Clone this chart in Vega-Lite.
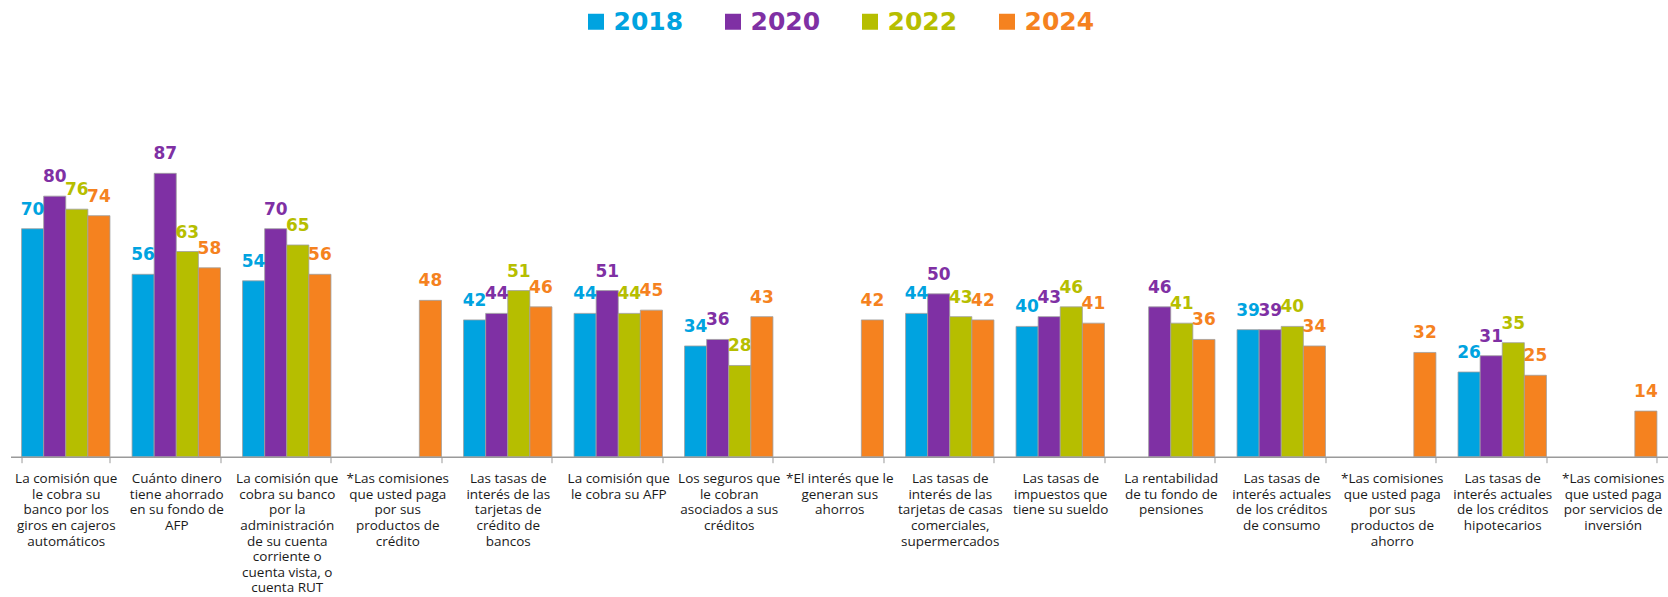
{
  "$schema": "https://vega.github.io/schema/vega-lite/v6.json",
  "width": 1657.5,
  "height": 325.7,
  "autosize": {"type": "none"},
  "padding": {"left": 10.5, "top": 131, "right": 0, "bottom": 140},
  "background": "white",
  "config": {"view": {"stroke": null}},
  "data": {
    "values": [
      {"q": "La comisión que|le cobra su|banco por los|giros en cajeros|automáticos", "year": "2018", "v": 70},
      {"q": "La comisión que|le cobra su|banco por los|giros en cajeros|automáticos", "year": "2020", "v": 80},
      {"q": "La comisión que|le cobra su|banco por los|giros en cajeros|automáticos", "year": "2022", "v": 76},
      {"q": "La comisión que|le cobra su|banco por los|giros en cajeros|automáticos", "year": "2024", "v": 74},
      {"q": "Cuánto dinero|tiene ahorrado|en su fondo de|AFP", "year": "2018", "v": 56},
      {"q": "Cuánto dinero|tiene ahorrado|en su fondo de|AFP", "year": "2020", "v": 87},
      {"q": "Cuánto dinero|tiene ahorrado|en su fondo de|AFP", "year": "2022", "v": 63},
      {"q": "Cuánto dinero|tiene ahorrado|en su fondo de|AFP", "year": "2024", "v": 58},
      {"q": "La comisión que|cobra su banco|por la|administración|de su cuenta|corriente o|cuenta vista, o|cuenta RUT", "year": "2018", "v": 54},
      {"q": "La comisión que|cobra su banco|por la|administración|de su cuenta|corriente o|cuenta vista, o|cuenta RUT", "year": "2020", "v": 70},
      {"q": "La comisión que|cobra su banco|por la|administración|de su cuenta|corriente o|cuenta vista, o|cuenta RUT", "year": "2022", "v": 65},
      {"q": "La comisión que|cobra su banco|por la|administración|de su cuenta|corriente o|cuenta vista, o|cuenta RUT", "year": "2024", "v": 56},
      {"q": "*Las comisiones|que usted paga|por sus|productos de|crédito", "year": "2024", "v": 48},
      {"q": "Las tasas de|interés de las|tarjetas de|crédito de|bancos", "year": "2018", "v": 42},
      {"q": "Las tasas de|interés de las|tarjetas de|crédito de|bancos", "year": "2020", "v": 44},
      {"q": "Las tasas de|interés de las|tarjetas de|crédito de|bancos", "year": "2022", "v": 51},
      {"q": "Las tasas de|interés de las|tarjetas de|crédito de|bancos", "year": "2024", "v": 46},
      {"q": "La comisión que|le cobra su AFP", "year": "2018", "v": 44},
      {"q": "La comisión que|le cobra su AFP", "year": "2020", "v": 51},
      {"q": "La comisión que|le cobra su AFP", "year": "2022", "v": 44},
      {"q": "La comisión que|le cobra su AFP", "year": "2024", "v": 45},
      {"q": "Los seguros que|le cobran|asociados a sus|créditos", "year": "2018", "v": 34},
      {"q": "Los seguros que|le cobran|asociados a sus|créditos", "year": "2020", "v": 36},
      {"q": "Los seguros que|le cobran|asociados a sus|créditos", "year": "2022", "v": 28},
      {"q": "Los seguros que|le cobran|asociados a sus|créditos", "year": "2024", "v": 43},
      {"q": "*El interés que le|generan sus|ahorros", "year": "2024", "v": 42},
      {"q": "Las tasas de|interés de las|tarjetas de casas|comerciales,|supermercados", "year": "2018", "v": 44},
      {"q": "Las tasas de|interés de las|tarjetas de casas|comerciales,|supermercados", "year": "2020", "v": 50},
      {"q": "Las tasas de|interés de las|tarjetas de casas|comerciales,|supermercados", "year": "2022", "v": 43},
      {"q": "Las tasas de|interés de las|tarjetas de casas|comerciales,|supermercados", "year": "2024", "v": 42},
      {"q": "Las tasas de|impuestos que|tiene su sueldo", "year": "2018", "v": 40},
      {"q": "Las tasas de|impuestos que|tiene su sueldo", "year": "2020", "v": 43},
      {"q": "Las tasas de|impuestos que|tiene su sueldo", "year": "2022", "v": 46},
      {"q": "Las tasas de|impuestos que|tiene su sueldo", "year": "2024", "v": 41},
      {"q": "La rentabilidad|de tu fondo de|pensiones", "year": "2020", "v": 46},
      {"q": "La rentabilidad|de tu fondo de|pensiones", "year": "2022", "v": 41},
      {"q": "La rentabilidad|de tu fondo de|pensiones", "year": "2024", "v": 36},
      {"q": "Las tasas de|interés actuales|de los créditos|de consumo", "year": "2018", "v": 39},
      {"q": "Las tasas de|interés actuales|de los créditos|de consumo", "year": "2020", "v": 39},
      {"q": "Las tasas de|interés actuales|de los créditos|de consumo", "year": "2022", "v": 40},
      {"q": "Las tasas de|interés actuales|de los créditos|de consumo", "year": "2024", "v": 34},
      {"q": "*Las comisiones|que usted paga|por sus|productos de|ahorro", "year": "2024", "v": 32},
      {"q": "Las tasas de|interés actuales|de los créditos|hipotecarios", "year": "2018", "v": 26},
      {"q": "Las tasas de|interés actuales|de los créditos|hipotecarios", "year": "2020", "v": 31},
      {"q": "Las tasas de|interés actuales|de los créditos|hipotecarios", "year": "2022", "v": 35},
      {"q": "Las tasas de|interés actuales|de los créditos|hipotecarios", "year": "2024", "v": 25},
      {"q": "*Las comisiones|que usted paga|por servicios de|inversión", "year": "2024", "v": 14}
    ]
  },
  "encoding": {
    "x": {
      "field": "q",
      "type": "nominal",
      "sort": null,
      "scale": {"paddingInner": 0.2, "paddingOuter": 0.1},
      "axis": {
        "title": null,
        "labelAngle": 0,
        "labelExpr": "isValid(datum.value) ? split(datum.value, '|') : ''",
        "labelFont": "Open Sans",
        "labelFontSize": 13.5,
        "labelColor": "#1a1a1a",
        "labelLineHeight": 15.6,
        "labelBaseline": "top",
        "labelPadding": 9,
        "labelLimit": 200,
        "tickBand": "extent",
        "tickSize": 6,
        "tickColor": "#9a9a9a",
        "domainColor": "#9a9a9a",
        "domainWidth": 1.5,
        "labelOverlap": false
      }
    },
    "xOffset": {"field": "year", "type": "nominal", "scale": {"domain": ["2018", "2020", "2022", "2024"]}},
    "y": {"field": "v", "type": "quantitative", "scale": {"domain": [0, 100]}, "axis": null},
    "color": {
      "field": "year",
      "type": "nominal",
      "scale": {"domain": ["2018", "2020", "2022", "2024"], "range": ["#00A3E0", "#7F30A4", "#B6BE00", "#F5821F"]},
      "legend": {
        "orient": "none",
        "legendX": 573,
        "legendY": -122,
        "direction": "horizontal",
        "title": null,
        "symbolType": "square",
        "symbolSize": 256,
        "symbolStrokeWidth": 0,
        "labelFont": "DejaVu Sans",
        "labelFontSize": 25,
        "labelFontWeight": "bold",
        "labelOffset": 5,
        "columnPadding": 37,
        "padding": 0,
        "encode": {"labels": {"update": {"fill": {"scale": "color", "field": "value"}}}}
      }
    }
  },
  "layer": [
    {"mark": {"type": "bar", "stroke": "#a0a0a0", "strokeWidth": 0.8}},
    {
      "mark": {"type": "text", "baseline": "alphabetic", "dy": -14, "font": "DejaVu Sans", "fontSize": 17, "fontWeight": "bold"},
      "encoding": {"text": {"field": "v", "type": "quantitative"}}
    }
  ]
}
